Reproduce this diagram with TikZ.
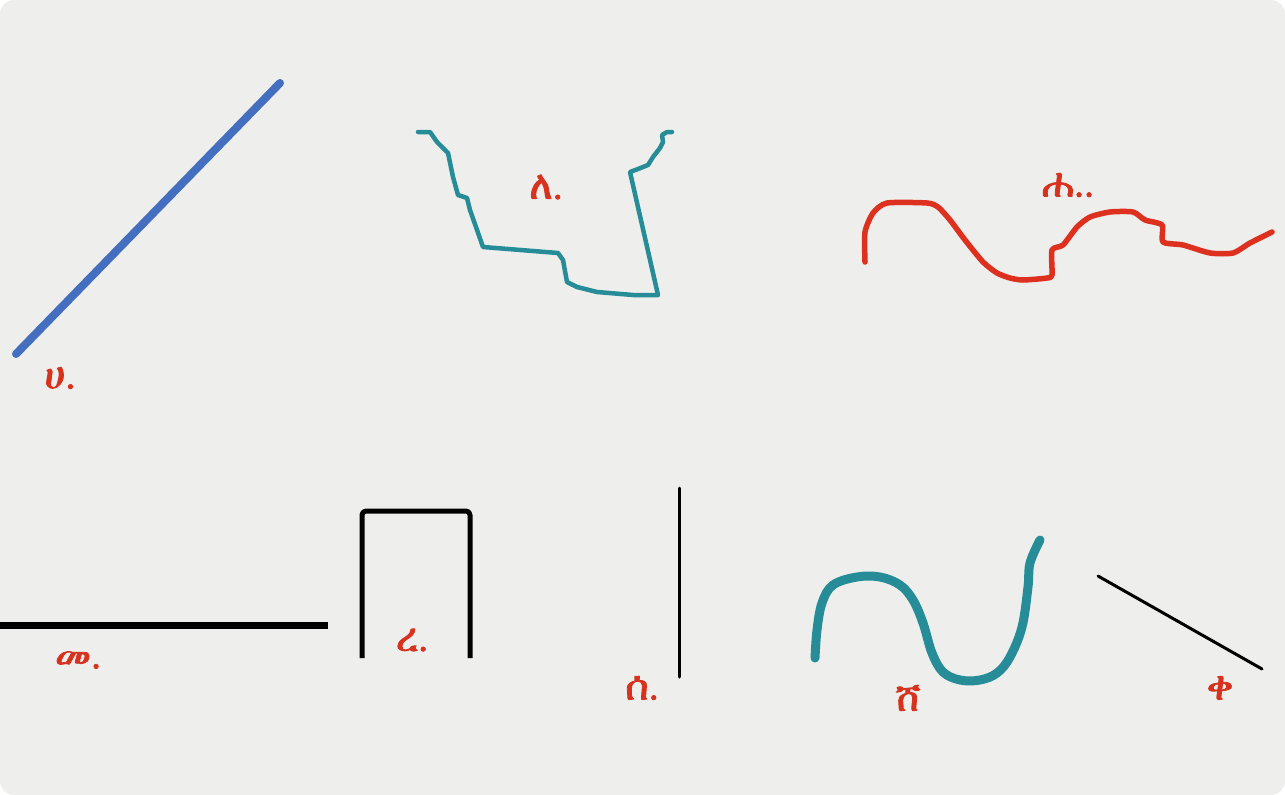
\documentclass[tikz,border=0pt]{standalone}
\usepackage{fontspec}
\IfFontExistsTF{FreeSerif}{\newfontfamily\ethfont{FreeSerif}[FakeBold=2]}{%
  \IfFontExistsTF{Abyssinica SIL}{\newfontfamily\ethfont{Abyssinica SIL}}{\newfontfamily\ethfont{DejaVu Sans}}}
\definecolor{panelgray}{RGB}{238,238,236}
\definecolor{lineblue}{RGB}{68,110,192}
\definecolor{lineteal}{RGB}{38,140,152}
\definecolor{linered}{RGB}{222,48,30}
\definecolor{labelred}{RGB}{214,50,30}
\begin{document}
\begin{tikzpicture}[x=1pt, y=-1pt, line cap=round, line join=round,
  lbl/.style={text=labelred, font=\ethfont\fontsize{40}{40}\selectfont, inner sep=0pt}]
			% Window bounds
			\useasboundingbox (0,0) rectangle (1285,795);
			\fill[panelgray, rounded corners=14pt] (0,0) rectangle (1285,795);
			
			% Straight slanted line
			\draw[lineblue, line width=8pt] (16,354) -- (280,83);
			\node[lbl] (a) at (60,378) {ሀ.};
			
			% Broken teal line
			\draw[lineteal, line width=4.5pt] (418,132) -- (430,132) -- (437,142) -- (448,153)
				-- (453,177) -- (458,195) -- (467,198) -- (470,210) -- (483,247)
				-- (558,253) -- (563,260) -- (567,282) -- (577,287) -- (597,292)
				-- (633,295) -- (658,295) -- (630,172) -- (638,169) -- (648,165)
				-- (653,157) -- (660,148) -- (663,142) -- (662,135) -- (667,132) -- (672,132);
			\node[lbl] (b) at (546,187) {ለ.};
			
			% Red wavy line
			\draw[linered, line width=5.5pt] plot[smooth, tension=0.4] coordinates {
				(865,262) (865,232) (873,213) (887,203) (927,203) (938,207) (950,220)
				(965,240) (983,262) (997,273) (1010,278) (1023,280) (1047,278) (1052,275)
				(1052,250) (1063,245) (1077,227) (1090,217) (1110,212) (1133,212) (1145,220)
				(1162,225) (1163,242) (1183,245) (1210,253) (1233,253) (1250,243) (1272,232)};
			\node[lbl] (c) at (1068,185) {ሐ..};
			
			% Horizontal line
			\draw[black, line width=7pt, line cap=butt] (0,625) -- (328,625);
			\node[lbl] (d) at (78,660) {መ.};
			
			% Open frame
			\draw[black, line width=5pt, line cap=butt, rounded corners=4pt]
				(362,658) -- (362,511) -- (470,511) -- (470,658);
			\node[lbl] (e) at (412,640) {ረ.};
			
			% Vertical line
			\draw[black, line width=3pt] (679,488) -- (679,677);
			\node[lbl] (f) at (642,688) {ሰ.};
			
			% Thick teal curve
			\draw[lineteal, line width=9pt] plot[smooth, tension=0.6] coordinates {
				(815,658) (817,630) (822,603) (833,585) (857,577) (880,577) (900,585)
				(913,600) (923,623) (932,653) (943,672) (960,680) (980,680) (997,673)
				(1010,657) (1022,627) (1028,587) (1030,563) (1040,540)};
			\node[lbl] (g) at (908,698) {ሸ};
			
			% Falling diagonal line
			\draw[black, line width=3pt] (1098,576) -- (1262,669);
			\node[lbl] (h) at (1220,688) {ቀ};
		\end{tikzpicture}
\end{document}
